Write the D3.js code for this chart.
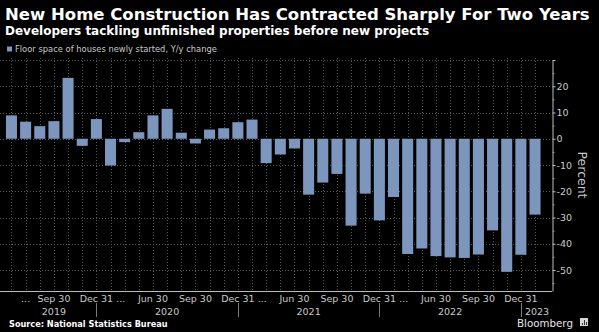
<!DOCTYPE html>
<html>
<head>
<meta charset="utf-8">
<script src="https://cdn.jsdelivr.net/npm/d3@7"></script>
<style>
  html, body { margin: 0; padding: 0; background: #000; }
  svg { display: block; }
  text { font-family: "DejaVu Sans", sans-serif; }
</style>
</head>
<body>
<script>
const W = 599, H = 332;

// monthly readings; Jan and Feb are reported together and left out
const months = [
  "2019-06", "2019-07", "2019-08", "2019-09", "2019-10", "2019-11", "2019-12",
  "2020-03", "2020-04", "2020-05", "2020-06", "2020-07", "2020-08", "2020-09", "2020-10", "2020-11", "2020-12",
  "2021-03", "2021-04", "2021-05", "2021-06", "2021-07", "2021-08", "2021-09", "2021-10", "2021-11", "2021-12",
  "2022-03", "2022-04", "2022-05", "2022-06", "2022-07", "2022-08", "2022-09", "2022-10", "2022-11", "2022-12",
  "2023-03"
];

// floor space of houses newly started, y/y % change
const yoyChange = [
  8.9, 6.5, 4.8, 6.7, 23.2, -2.7, 7.5,
  -10.2, -1.3, 2.5, 8.9, 11.4, 2.3, -1.8, 3.5, 4.0, 6.3,
  7.3, -9.3, -6.0, -3.7, -21.3, -16.7, -13.4, -33.1, -20.9, -31.1,
  -22.2, -43.9, -41.8, -44.7, -45.2, -45.4, -44.1, -34.9, -50.7, -44.2,
  -28.9
];

const yTicks = [30, 20, 10, 0, -10, -20, -30, -40, -50];
const yMinorTicks = [25, 15, 5, -5, -15, -25, -35, -45, -55];

const xTickMonths = ["2019-07", "2019-09", "2019-12", "2020-04", "2020-06", "2020-09", "2020-12",
  "2021-04", "2021-06", "2021-09", "2021-12", "2022-04", "2022-06", "2022-09", "2022-12"];
const xTickText = ["...", "Sep 30", "Dec 31", "...", "Jun 30", "Sep 30", "Dec 31",
  "...", "Jun 30", "Sep 30", "Dec 31", "...", "Jun 30", "Sep 30", "Dec 31"];

const years = ["2019", "2020", "2021", "2022", "2023"];

const barColor = "#7d96be";
const gridColor = "#595959";
const labelColor = "#c8c8c8";

const svg = d3.select("body").append("svg")
  .attr("width", W)
  .attr("height", H);

svg.append("rect").attr("width", W).attr("height", H).attr("fill", "#000");

const axisX = 552;
const x = d3.scaleBand()
  .domain(months)
  .range([4.4, 542.1])
  .paddingInner(0.22)
  .paddingOuter(0.11);
const y = d3.scaleLinear().domain([-58, 30]).range([291, 60]);
const cx = m => x(m) + x.bandwidth() / 2;

function fitWidth(sel, target) {
  const w = sel.node().getComputedTextLength();
  const fs = parseFloat(sel.attr("font-size"));
  sel.attr("font-size", (fs * target / w).toFixed(2));
}

// titles
const title = svg.append("text")
  .attr("x", 5).attr("y", 20)
  .attr("font-size", 15).attr("font-weight", "bold").attr("fill", "#fff")
  .text("New Home Construction Has Contracted Sharply For Two Years");
fitWidth(title, 585);

const subtitle = svg.append("text")
  .attr("x", 5).attr("y", 35)
  .attr("font-size", 12).attr("font-weight", "bold").attr("fill", "#fff")
  .text("Developers tackling unfinished properties before new projects");
fitWidth(subtitle, 424);

// legend
svg.append("rect")
  .attr("x", 7).attr("y", 46.5).attr("width", 5).attr("height", 5)
  .attr("fill", barColor);
const legendText = svg.append("text")
  .attr("x", 15).attr("y", 52)
  .attr("font-size", 8).attr("fill", labelColor)
  .text("Floor space of houses newly started, Y/y change");
fitWidth(legendText, 202);

// grid
const grid = svg.append("g")
  .attr("stroke", gridColor)
  .attr("stroke-width", 1)
  .attr("stroke-dasharray", "1,2");

grid.selectAll("line.h")
  .data(yTicks)
  .enter()
  .append("line")
  .attr("class", "h")
  .attr("x1", 0).attr("x2", axisX)
  .attr("y1", d => Math.round(y(d)) + 0.5)
  .attr("y2", d => Math.round(y(d)) + 0.5);

grid.selectAll("line.v")
  .data(months)
  .enter()
  .append("line")
  .attr("class", "v")
  .attr("x1", d => Math.round(cx(d)) + 0.5)
  .attr("x2", d => Math.round(cx(d)) + 0.5)
  .attr("y1", y(30) - 2).attr("y2", y(-58));

// bars
svg.append("g")
  .selectAll("rect")
  .data(months)
  .enter()
  .append("rect")
  .attr("x", d => x(d))
  .attr("width", x.bandwidth())
  .attr("y", (d, i) => y(Math.max(0, yoyChange[i])))
  .attr("height", (d, i) => Math.abs(y(yoyChange[i]) - y(0)))
  .attr("fill", barColor);

// x axis line
svg.append("line")
  .attr("x1", 0).attr("x2", axisX)
  .attr("y1", 291.5).attr("y2", 291.5)
  .attr("stroke", "#bdbdbd");

// month labels
const xAxis = svg.append("g")
  .attr("transform", "translate(0,292)")
  .call(d3.axisBottom(x)
    .tickValues(xTickMonths)
    .tickSize(0)
    .tickPadding(3)
    .tickFormat((d, i) => xTickText[i]));
xAxis.select(".domain").remove();
xAxis.selectAll("text")
  .attr("font-family", "DejaVu Sans, sans-serif")
  .attr("font-size", 9.5)
  .attr("fill", labelColor)
  .attr("dx", (d, i) => xTickText[i] === "..." && i > 0 ? -4 : 0);

// year separators and labels
const decIdx = months.map((m, i) => m.endsWith("-12") ? i : -1).filter(i => i >= 0);
svg.append("g")
  .selectAll("line")
  .data(decIdx)
  .enter()
  .append("line")
  .attr("x1", i => Math.round(cx(months[i])) + 0.5)
  .attr("x2", i => Math.round(cx(months[i])) + 0.5)
  .attr("y1", 303).attr("y2", 317)
  .attr("stroke", "#7a7a7a");

const bounds = [0].concat(decIdx).concat([months.length - 1]);
svg.append("g")
  .selectAll("text")
  .data(years)
  .enter()
  .append("text")
  .attr("x", (d, k) => {
    if (k === years.length - 1) return cx(months[bounds[k]]) + 4;
    return (cx(months[bounds[k]]) + cx(months[bounds[k + 1]])) / 2;
  })
  .attr("y", 315)
  .attr("text-anchor", (d, k) => k === years.length - 1 ? "start" : "middle")
  .attr("font-size", 9.5)
  .attr("fill", labelColor)
  .text(d => d);

// y axis on the right
const yAxis = svg.append("g")
  .attr("transform", `translate(${axisX + 0.5},0)`)
  .call(d3.axisRight(y)
    .tickValues(yTicks)
    .tickSize(3)
    .tickSizeOuter(0)
    .tickPadding(1)
    .tickFormat(d => d === 30 ? "" : String(d)));
yAxis.select(".domain").attr("stroke", "#bdbdbd");
yAxis.selectAll(".tick line").attr("stroke", "#bdbdbd");
yAxis.selectAll("text")
  .attr("font-family", "DejaVu Sans, sans-serif")
  .attr("font-size", 9.5)
  .attr("fill", labelColor);

const yMinor = svg.append("g")
  .attr("transform", `translate(${axisX + 0.5},0)`)
  .call(d3.axisRight(y)
    .tickValues(yMinorTicks)
    .tickSize(2)
    .tickSizeOuter(0)
    .tickFormat(""));
yMinor.select(".domain").remove();
yMinor.selectAll(".tick line").attr("stroke", "#9a9a9a");

svg.append("text")
  .attr("transform", "translate(578,175) rotate(90)")
  .attr("text-anchor", "middle")
  .attr("font-size", 12.5)
  .attr("fill", labelColor)
  .text("Percent");

// footer
const source = svg.append("text")
  .attr("x", 9).attr("y", 327)
  .attr("font-size", 8).attr("font-weight", "bold").attr("fill", "#fff")
  .text("Source: National Statistics Bureau");
fitWidth(source, 159);

const brand = svg.append("text")
  .attr("x", 517).attr("y", 327)
  .attr("font-size", 11).attr("fill", "#e6e6e6")
  .text("Bloomberg");
fitWidth(brand, 56);

const logo = svg.append("g").attr("transform", "translate(580,318)");
logo.append("rect").attr("width", 8).attr("height", 8).attr("fill", "#d8d8d8");
logo.selectAll("line")
  .data([[2, 5], [4, 2], [6, 4]])
  .enter()
  .append("line")
  .attr("x1", d => d[0] + 0.5).attr("x2", d => d[0] + 0.5)
  .attr("y1", d => d[1]).attr("y2", 7)
  .attr("stroke", "#333");
</script>
</body>
</html>
